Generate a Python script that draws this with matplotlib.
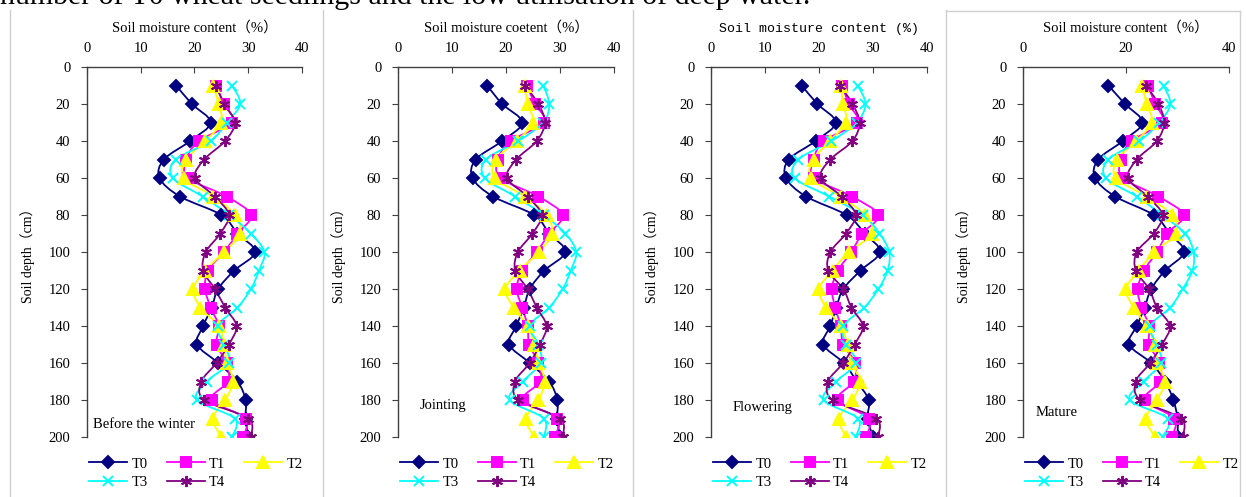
import numpy as np
import matplotlib
matplotlib.use("Agg")
import matplotlib.pyplot as plt
from matplotlib.path import Path
from matplotlib.patches import PathPatch
from matplotlib.lines import Line2D

# soil depth (cm)
depth = [10, 20, 30, 40, 50, 60, 70, 80, 90, 100,
         110, 120, 130, 140, 150, 160, 170, 180, 190, 200]

# Before the winter
bw_t0 = [16.6, 19.5, 23.0, 19.2, 14.3, 13.5, 17.3, 25.0, 28.0, 31.3, 27.4, 24.4, 23.2, 21.6, 20.5, 24.4, 28.0, 29.5, 29.5, 30.0]
bw_t1 = [24.0, 25.5, 27.0, 20.8, 18.5, 18.8, 26.0, 30.5, 28.0, 25.5, 22.5, 22.0, 23.0, 24.5, 24.1, 26.0, 26.2, 23.2, 29.5, 29.0]
bw_t2 = [23.5, 24.5, 25.0, 22.0, 18.5, 18.0, 23.5, 27.5, 28.5, 25.5, 22.0, 19.8, 21.1, 24.5, 25.5, 26.0, 27.2, 25.7, 23.4, 25.0]
bw_t3 = [27.0, 28.5, 26.0, 23.0, 16.5, 16.0, 21.5, 26.5, 30.5, 33.0, 32.0, 30.5, 28.0, 24.3, 25.5, 26.4, 22.3, 20.5, 27.5, 27.0]
bw_t4 = [24.0, 25.5, 27.5, 25.7, 21.8, 20.1, 23.8, 26.4, 24.8, 22.1, 21.6, 23.8, 25.7, 27.8, 26.4, 24.1, 21.3, 21.8, 30.0, 30.5]

# Jointing
jt_t0 = [16.5, 19.3, 23.0, 19.3, 14.4, 13.8, 17.6, 25.2, 28.0, 31.0, 27.1, 24.4, 23.3, 21.9, 20.6, 24.4, 28.0, 29.5, 29.5, 30.0]
jt_t1 = [23.8, 25.4, 27.0, 20.9, 18.5, 19.0, 26.0, 30.5, 28.0, 25.7, 23.0, 22.0, 23.0, 24.0, 24.3, 26.0, 26.3, 23.2, 29.5, 29.0]
jt_t2 = [23.5, 24.0, 25.0, 22.0, 18.1, 18.0, 23.5, 27.5, 28.5, 26.1, 22.5, 19.9, 21.4, 24.0, 25.2, 26.0, 27.2, 26.0, 23.7, 25.2]
jt_t3 = [26.9, 28.0, 26.9, 22.3, 16.3, 16.1, 21.7, 27.0, 31.0, 33.0, 32.0, 30.5, 28.0, 24.4, 26.0, 26.4, 23.1, 20.7, 27.0, 27.0]
jt_t4 = [23.5, 26.0, 27.2, 25.7, 21.9, 20.2, 24.0, 26.6, 24.9, 22.2, 21.7, 24.0, 25.7, 27.5, 26.3, 24.4, 21.7, 22.3, 30.0, 30.5]

# Flowering
fl_t0 = [16.8, 19.7, 23.1, 19.4, 14.4, 13.9, 17.6, 25.1, 28.5, 31.3, 27.7, 24.5, 23.2, 22.1, 20.8, 24.6, 27.0, 29.2, 29.0, 30.0]
fl_t1 = [24.3, 25.5, 27.0, 20.9, 19.0, 19.1, 26.1, 31.0, 28.0, 26.0, 23.5, 22.4, 23.0, 24.0, 24.5, 26.7, 26.4, 23.5, 29.2, 28.7]
fl_t2 = [24.0, 24.5, 25.0, 22.0, 19.0, 18.5, 24.0, 28.5, 29.9, 25.5, 22.5, 20.0, 21.3, 24.0, 25.3, 26.0, 27.6, 26.2, 23.7, 25.0]
fl_t3 = [27.2, 28.6, 27.0, 22.3, 16.2, 15.5, 21.9, 28.1, 31.2, 33.0, 32.7, 31.0, 28.4, 24.5, 25.0, 26.9, 23.2, 20.9, 27.2, 26.8]
fl_t4 = [23.9, 26.2, 27.5, 26.2, 22.1, 20.3, 24.2, 26.8, 25.0, 22.1, 21.7, 24.5, 26.0, 28.1, 26.6, 24.5, 21.7, 22.5, 30.6, 30.9]

# Mature
mt_t0 = [16.6, 19.8, 23.2, 19.4, 14.6, 14.0, 17.9, 25.4, 28.5, 31.3, 27.6, 24.9, 23.6, 22.1, 20.6, 24.9, 27.6, 29.2, 30.0, 30.0]
mt_t1 = [24.2, 25.7, 27.0, 21.1, 19.0, 19.4, 26.3, 31.2, 28.0, 26.0, 23.5, 22.3, 23.0, 24.5, 24.5, 26.5, 26.6, 23.6, 29.4, 28.9]
mt_t2 = [23.2, 24.0, 25.0, 22.0, 18.3, 18.1, 24.0, 28.9, 29.7, 25.5, 22.5, 20.0, 21.5, 24.0, 25.6, 26.0, 27.6, 26.0, 23.9, 25.6]
mt_t3 = [27.3, 28.6, 26.5, 22.6, 16.6, 16.1, 22.1, 27.0, 31.5, 33.1, 32.9, 31.0, 28.6, 24.7, 26.0, 26.8, 23.4, 20.8, 28.1, 27.1]
mt_t4 = [23.9, 26.3, 27.4, 26.0, 22.1, 20.4, 24.2, 27.1, 25.4, 22.1, 21.9, 24.5, 26.0, 28.5, 27.0, 24.7, 21.9, 22.8, 30.7, 31.0]

series_names = ["T0", "T1", "T2", "T3", "T4"]
colors = ["#000080", "#ff00ff", "#ffff00", "#00ffff", "#800080"]
markers = ["D", "s", "^", "x", (6, 2, 0)]
msizes = [6.5, 7, 8, 7, 8]

stages = ["Before the winter", "Jointing", "Flowering", "Mature"]
panel_data = [[bw_t0, bw_t1, bw_t2, bw_t3, bw_t4],
              [jt_t0, jt_t1, jt_t2, jt_t3, jt_t4],
              [fl_t0, fl_t1, fl_t2, fl_t3, fl_t4],
              [mt_t0, mt_t1, mt_t2, mt_t3, mt_t4]]
xlabels = ["Soil moisture content\uff08%\uff09", "Soil moisture coetent\uff08%\uff09",
           "Soil moisture content (%)", "Soil moisture content\uff08%\uff09"]

W, H = 1246, 497
SERIF = ["Liberation Serif", "Noto Sans CJK SC"]
MONO = ["Liberation Mono", "Noto Sans CJK SC"]


def smooth_path(x, y):
    # excel-like smoothed line (bezier through the points)
    pts = np.column_stack([x, y]).astype(float)
    n = len(pts)
    verts = [pts[0]]
    codes = [Path.MOVETO]
    for i in range(n - 1):
        p0 = pts[max(i - 1, 0)]
        p1 = pts[i]
        p2 = pts[i + 1]
        p3 = pts[min(i + 2, n - 1)]
        verts += [p1 + (p2 - p0) / 6, p2 - (p3 - p1) / 6, p2]
        codes += [Path.CURVE4] * 3
    return Path(verts, codes)


fig = plt.figure(figsize=(W / 100, H / 100), dpi=100)

# axes boxes in pixels: left, right
boxes = [(87, 302), (398, 614), (711, 927), (1023, 1229)]
top_px, bot_px = 67, 437
label_pos = [(93, 424), (420, 406), (733, 408), (1036, 413)]
legend_x = [82, 393, 706, 1018]

for k, (l, r) in enumerate(boxes):
    ax = fig.add_axes([l / W, (H - bot_px) / H, (r - l) / W, (bot_px - top_px) / H])
    for j, vals in enumerate(panel_data[k]):
        ax.add_patch(PathPatch(smooth_path(vals, depth), fill=False,
                               edgecolor=colors[j], lw=1.3, zorder=2 + j * 0.1))
        ax.plot(vals, depth, ls="none", marker=markers[j], ms=msizes[j],
                color=colors[j], mec=colors[j], mew=1.4, zorder=3 + j * 0.1)
    ax.set_xlim(0, 40)
    ax.set_ylim(200, 0)
    ax.set_xticks([0, 20, 40] if k == 3 else [0, 10, 20, 30, 40])
    ax.set_yticks(range(0, 201, 20))
    ax.xaxis.tick_top()
    ax.xaxis.set_label_position("top")
    ax.spines["right"].set_visible(False)
    ax.spines["bottom"].set_visible(False)
    for s in ("left", "top"):
        ax.spines[s].set_color("#404040")
        ax.spines[s].set_linewidth(1.0)
    ax.tick_params(axis="x", direction="in", length=4, pad=9, colors="#404040",
                   labelcolor="black", labelsize=10.5)
    ax.tick_params(axis="y", direction="out", length=4, pad=8, colors="#404040",
                   labelcolor="black", labelsize=10.5)
    for t in ax.get_xticklabels() + ax.get_yticklabels():
        t.set_family(SERIF)
    ax.set_xlabel(xlabels[k], family=MONO if k == 2 else SERIF,
                  fontsize=9.5 if k == 2 else 10.5, labelpad=7)
    ax.set_ylabel("Soil depth\uff08cm\uff09", family=SERIF, fontsize=10, labelpad=10)

    lx, ly = label_pos[k]
    fig.text(lx / W, 1 - ly / H, stages[k], family=SERIF, fontsize=10.5,
             va="center", ha="left",
             bbox=dict(facecolor="white", edgecolor="none", pad=1.5))

    handles = [Line2D([], [], color=colors[j], marker=markers[j], ms=msizes[j],
                      mew=1.4, lw=1.3) for j in range(5)]
    order = [0, 3, 1, 4, 2]
    ax.legend([handles[i] for i in order], [series_names[i] for i in order],
              ncol=3, loc="upper left", frameon=False,
              bbox_to_anchor=(legend_x[k] / W, 1 - 450 / H), bbox_transform=fig.transFigure,
              prop={"family": SERIF, "size": 10.5}, handlelength=2.6,
              handletextpad=0.3, columnspacing=1.3, labelspacing=0.35,
              borderpad=0.0)

# page frame lines from the document
line_col = "#d0d0d0"
for xp in (10, 323, 633, 946):
    fig.add_artist(Line2D([xp / W, xp / W], [0, 1 - 10 / H], color=line_col, lw=1,
                          transform=fig.transFigure))
fig.add_artist(Line2D([946 / W, 1240 / W], [1 - 11 / H, 1 - 11 / H], color=line_col, lw=1,
                      transform=fig.transFigure))
fig.add_artist(Line2D([1240 / W, 1240 / W], [0, 1 - 11 / H], color=line_col, lw=1,
                      transform=fig.transFigure))

# cut-off sentence of the surrounding text (the reference shows only its lower part)
fig.text(0.0, 1 - 4 / H, "number of T0 wheat seedlings and the low utilisation of deep water.",
         family=SERIF, fontsize=21.5, va="baseline", ha="left")

fig.savefig("out.png", dpi=100)
